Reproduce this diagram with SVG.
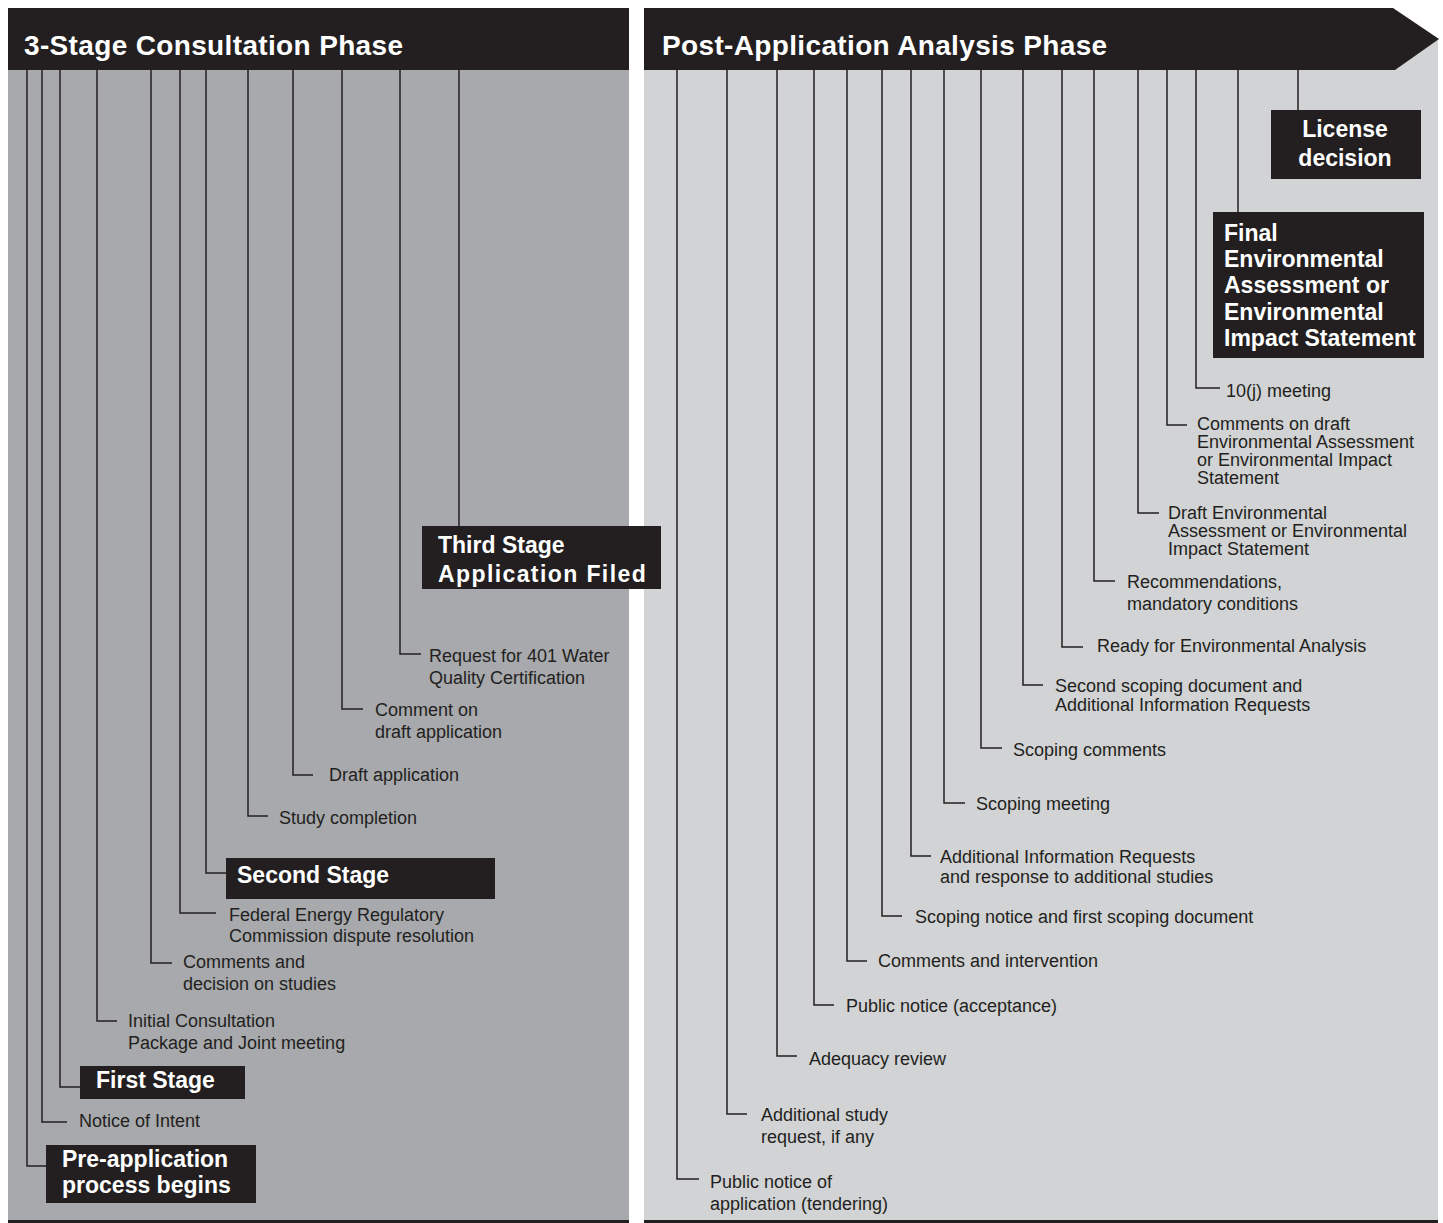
<svg xmlns="http://www.w3.org/2000/svg" width="1443" height="1223" viewBox="0 0 1443 1223">
<style>
.lbl{font-family:"Liberation Sans",Arial,Helvetica,sans-serif;font-size:18px;fill:#231f20}
.bx{font-family:"Liberation Sans",Arial,Helvetica,sans-serif;font-size:23px;font-weight:bold;fill:#ffffff}
.hd{font-family:"Liberation Sans",Arial,Helvetica,sans-serif;font-size:28px;font-weight:bold;fill:#ffffff;letter-spacing:0.35px}
.box{fill:#231f20}
.ln{fill:none;stroke:#231f20;stroke-width:1.5}
</style>
<rect x="0" y="0" width="1443" height="1223" fill="#ffffff"/>
<g id="panels">
<rect x="8" y="70" width="621" height="1150" fill="#a7a9ac"/>
<rect x="8" y="1220" width="621" height="3" fill="#231f20"/>
<rect x="644" y="40" width="794" height="1180" fill="#d1d3d4"/>
<rect x="644" y="1220" width="794" height="3" fill="#231f20"/>
</g>
<g id="header-left">
<rect class="box" x="8" y="8" width="621" height="62"/>
<text class="hd" x="24" y="55">3-Stage Consultation Phase</text>
</g>
<g id="header-right">
<polygon class="box" points="644,8 1393,8 1439,39 1395,70 644,70"/>
<text class="hd" x="662" y="55">Post-Application Analysis Phase</text>
</g>
<g id="connectors">
<path class="ln" d="M27,70 V1166 H46"/>
<path class="ln" d="M42,70 V1122 H67"/>
<path class="ln" d="M60,70 V1087 H80"/>
<path class="ln" d="M97,70 V1021 H117"/>
<path class="ln" d="M151,70 V963 H172"/>
<path class="ln" d="M180,70 V913 H216"/>
<path class="ln" d="M206,70 V873 H226"/>
<path class="ln" d="M248,70 V816 H268"/>
<path class="ln" d="M293,70 V775 H313"/>
<path class="ln" d="M342,70 V709 H363"/>
<path class="ln" d="M400,70 V654 H421"/>
<path class="ln" d="M459,70 V526"/>
<path class="ln" d="M677,70 V1179 H699"/>
<path class="ln" d="M727,70 V1114 H747"/>
<path class="ln" d="M777,70 V1056 H797"/>
<path class="ln" d="M814,70 V1005 H834"/>
<path class="ln" d="M847,70 V961 H867"/>
<path class="ln" d="M882,70 V916 H902"/>
<path class="ln" d="M911,70 V856 H931"/>
<path class="ln" d="M944,70 V803 H965"/>
<path class="ln" d="M981,70 V748 H1002"/>
<path class="ln" d="M1023,70 V685 H1043"/>
<path class="ln" d="M1062,70 V647 H1083"/>
<path class="ln" d="M1094,70 V581 H1115"/>
<path class="ln" d="M1138,70 V513 H1159"/>
<path class="ln" d="M1167,70 V425 H1187"/>
<path class="ln" d="M1196,70 V388 H1220"/>
<path class="ln" d="M1238,70 V212"/>
<path class="ln" d="M1298,70 V110"/>
</g>
<g id="pre-application">
<rect class="box" x="46" y="1145" width="210" height="58"/>
<text class="bx" x="62" y="1167">Pre-application</text>
<text class="bx" x="62" y="1193">process begins</text>
</g>
<g id="notice-of-intent">
<text class="lbl" x="79" y="1127">Notice of Intent</text>
</g>
<g id="first-stage">
<rect class="box" x="80" y="1066" width="165" height="33"/>
<text class="bx" x="96" y="1088">First Stage</text>
</g>
<g id="initial-consultation">
<text class="lbl" x="128" y="1027">Initial Consultation</text>
<text class="lbl" x="128" y="1049">Package and Joint meeting</text>
</g>
<g id="comments-decision">
<text class="lbl" x="183" y="968">Comments and</text>
<text class="lbl" x="183" y="990">decision on studies</text>
</g>
<g id="ferc-dispute">
<text class="lbl" x="229" y="921">Federal Energy Regulatory</text>
<text class="lbl" x="229" y="942">Commission dispute resolution</text>
</g>
<g id="second-stage">
<rect class="box" x="226" y="858" width="269" height="41"/>
<text class="bx" x="237" y="883">Second Stage</text>
</g>
<g id="study-completion">
<text class="lbl" x="279" y="824">Study completion</text>
</g>
<g id="draft-application">
<text class="lbl" x="329" y="781">Draft application</text>
</g>
<g id="comment-draft">
<text class="lbl" x="375" y="716">Comment on</text>
<text class="lbl" x="375" y="738">draft application</text>
</g>
<g id="request-401">
<text class="lbl" x="429" y="662">Request for 401 Water</text>
<text class="lbl" x="429" y="684">Quality Certification</text>
</g>
<g id="third-stage">
<rect class="box" x="422" y="526" width="239" height="63"/>
<text class="bx" x="438" y="553">Third Stage</text>
<text class="bx" x="438" y="582" letter-spacing="1.4">Application Filed</text>
</g>
<g id="public-notice-tendering">
<text class="lbl" x="710" y="1188">Public notice of</text>
<text class="lbl" x="710" y="1210">application (tendering)</text>
</g>
<g id="additional-study">
<text class="lbl" x="761" y="1121">Additional study</text>
<text class="lbl" x="761" y="1143">request, if any</text>
</g>
<g id="adequacy-review">
<text class="lbl" x="809" y="1065">Adequacy review</text>
</g>
<g id="public-notice-acceptance">
<text class="lbl" x="846" y="1012">Public notice (acceptance)</text>
</g>
<g id="comments-intervention">
<text class="lbl" x="878" y="967">Comments and intervention</text>
</g>
<g id="scoping-notice">
<text class="lbl" x="915" y="923">Scoping notice and first scoping document</text>
</g>
<g id="air-response">
<text class="lbl" x="940" y="863">Additional Information Requests</text>
<text class="lbl" x="940" y="883">and response to additional studies</text>
</g>
<g id="scoping-meeting">
<text class="lbl" x="976" y="810">Scoping meeting</text>
</g>
<g id="scoping-comments">
<text class="lbl" x="1013" y="756">Scoping comments</text>
</g>
<g id="second-scoping">
<text class="lbl" x="1055" y="692">Second scoping document and</text>
<text class="lbl" x="1055" y="711">Additional Information Requests</text>
</g>
<g id="ready-ea">
<text class="lbl" x="1097" y="652">Ready for Environmental Analysis</text>
</g>
<g id="recommendations">
<text class="lbl" x="1127" y="588">Recommendations,</text>
<text class="lbl" x="1127" y="610">mandatory conditions</text>
</g>
<g id="draft-ea">
<text class="lbl" x="1168" y="519">Draft Environmental</text>
<text class="lbl" x="1168" y="537">Assessment or Environmental</text>
<text class="lbl" x="1168" y="555">Impact Statement</text>
</g>
<g id="comments-draft-ea">
<text class="lbl" x="1197" y="430">Comments on draft</text>
<text class="lbl" x="1197" y="448">Environmental Assessment</text>
<text class="lbl" x="1197" y="466">or Environmental Impact</text>
<text class="lbl" x="1197" y="484">Statement</text>
</g>
<g id="ten-j-meeting">
<text class="lbl" x="1226" y="397">10(j) meeting</text>
</g>
<g id="final-ea">
<rect class="box" x="1213" y="212" width="211" height="146"/>
<text class="bx" x="1224" y="241">Final</text>
<text class="bx" x="1224" y="267">Environmental</text>
<text class="bx" x="1224" y="293">Assessment or</text>
<text class="bx" x="1224" y="320">Environmental</text>
<text class="bx" x="1224" y="346">Impact Statement</text>
</g>
<g id="license-decision">
<rect class="box" x="1271" y="110" width="150" height="69"/>
<text class="bx" x="1345" y="137" text-anchor="middle">License</text>
<text class="bx" x="1345" y="166" text-anchor="middle">decision</text>
</g>
</svg>
